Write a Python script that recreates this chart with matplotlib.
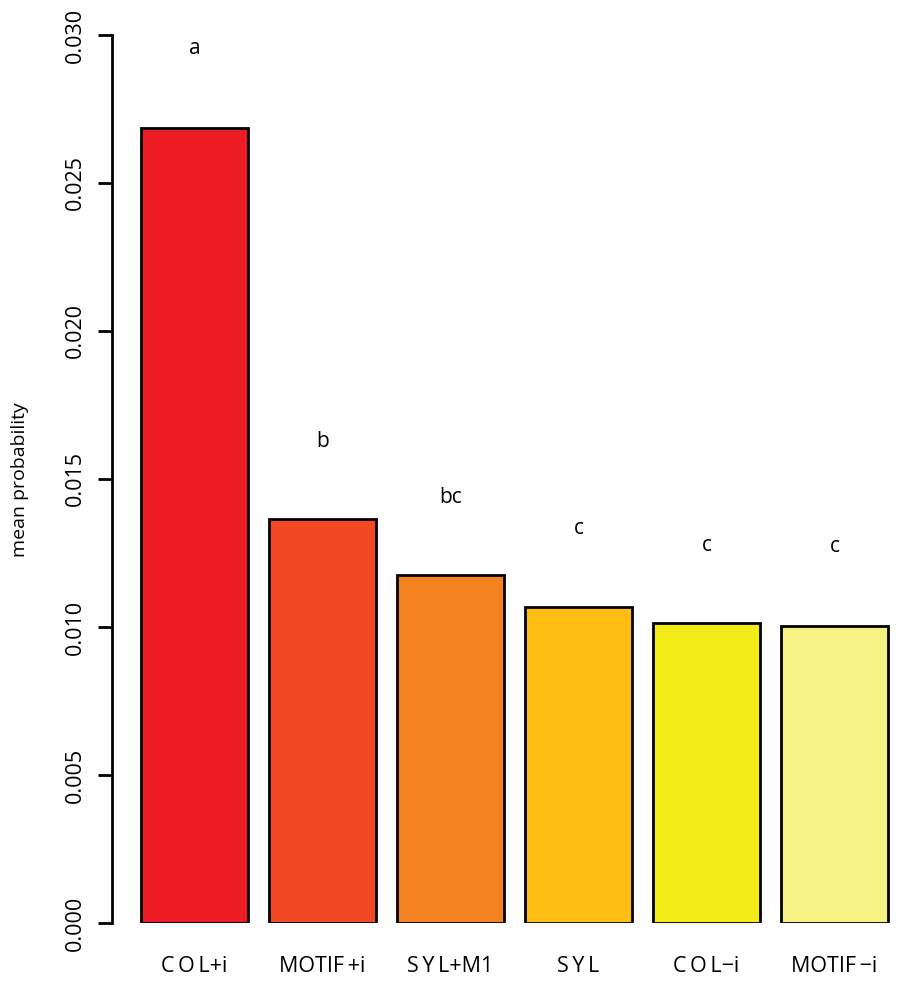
import numpy as np
import matplotlib
matplotlib.use("Agg")
import matplotlib.pyplot as plt

plt.rcParams['font.family'] = ['Open Sans', 'DejaVu Sans']

# labels keep the loose letter spacing of the original (thin spaces)
groups = ["C\u2009O\u2009L+i", "MOTIF\u2009+i", "S\u2009Y\u2009L+M1", "S\u2009Y\u2009L",
          "C\u2009O\u2009L\u2212i", "MOTIF\u2009\u2212i"]
means = [0.02687, 0.01364, 0.01177, 0.01068, 0.01014, 0.01004]
letters = ["a", "b", "bc", "c", "c", "c"]
letter_y = [0.02955, 0.01626, 0.01439, 0.01334, 0.01277, 0.01271]
colors = ["#ED1C24", "#F04923", "#F58220", "#FDBD13", "#F3EC19", "#F7F283"]

fig = plt.figure(figsize=(9, 9.83), dpi=100)
# axes placed in pixels: left spine at x=112, y=0 at 923px, y=0.030 at 35px
ax = fig.add_axes([112 / 900, 60 / 983, (896 - 112) / 900, 888 / 983])

x = np.arange(len(groups))
ax.bar(x, means, width=0.836, color=colors, edgecolor="black", linewidth=2)

for xi, lab, ly in zip(x, letters, letter_y):
    ax.text(xi, ly, lab, ha="center", va="center", fontsize=15, clip_on=False)

ax.set_xlim(-0.645, 5.48)
ax.set_ylim(0, 0.030)
ax.set_yticks(np.arange(0, 0.0301, 0.005))
ax.set_yticklabels(["%.3f" % v for v in np.arange(0, 0.0301, 0.005)],
                   rotation=90, va="center", fontsize=15.5)
ax.tick_params(axis="y", length=10, width=2, pad=9)
ax.set_xticks(x)
ax.set_xticklabels(groups, fontsize=15.5)
ax.tick_params(axis="x", length=0, pad=24)

for s in ["top", "right", "bottom"]:
    ax.spines[s].set_visible(False)
ax.spines["left"].set_linewidth(2)

fig.text(20 / 900, 1 - 480 / 983, "mean probability", rotation=90,
         ha="center", va="center", fontsize=14)

fig.savefig("out.png", dpi=100)
